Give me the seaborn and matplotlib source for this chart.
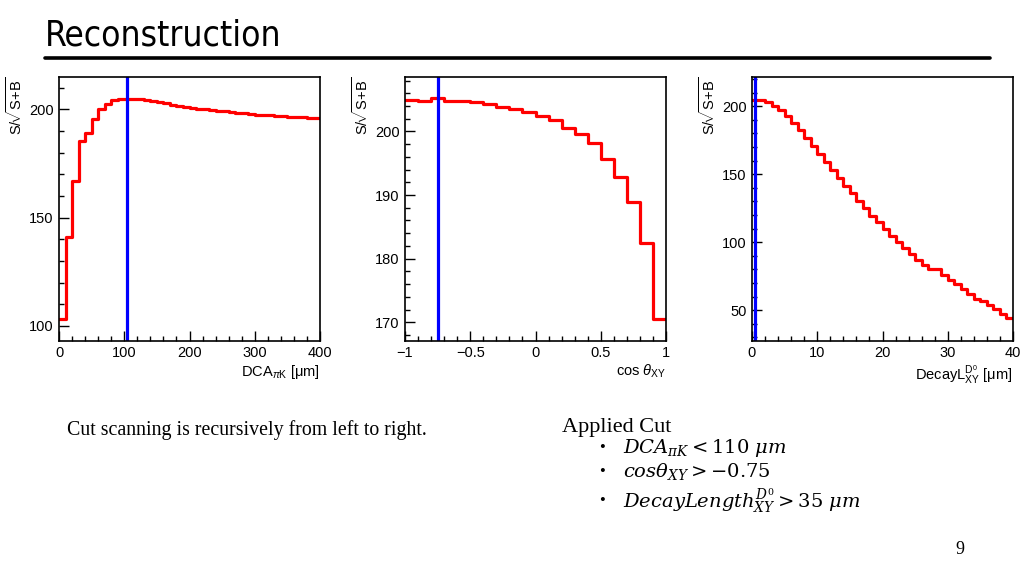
import numpy as np
import pandas as pd
import matplotlib.pyplot as plt
import seaborn as sns
from matplotlib.lines import Line2D
from matplotlib.ticker import MultipleLocator

# --- Data ---
# DCA_piK scan, 40 bins of 10 um from 0 to 400
dca_vals = [103.1, 140.9, 167.0, 185.3, 188.8, 195.7, 200.0, 202.6, 204.1, 204.8,
            204.8, 204.7, 204.5, 204.2, 203.8, 203.3, 202.7, 202.1, 201.5, 201.0,
            200.6, 200.3, 200.0, 199.6, 199.3, 199.0, 198.7, 198.4, 198.1, 197.8,
            197.5, 197.3, 197.1, 196.9, 196.7, 196.5, 196.3, 196.2, 196.1, 196.0]
dca_cut = 104

# cos theta_XY scan, 20 bins of 0.1 from -1 to 1
cos_vals = [205.0, 204.8, 205.3, 204.8, 204.8, 204.6, 204.3, 203.9, 203.5, 203.1,
            202.5, 201.8, 200.5, 199.6, 198.2, 195.7, 192.9, 188.9, 182.4, 170.5]
cos_cut = -0.75

# decay length scan, 40 bins of 1 um from 0 to 40
dl_vals = [205.0, 204.5, 203.0, 200.5, 197.0, 193.0, 188.0, 182.5, 177.0, 171.0,
           165.0, 159.0, 153.0, 147.5, 141.5, 136.0, 130.5, 125.0, 119.5, 114.5,
           109.5, 104.5, 100.0, 95.5, 91.0, 87.0, 83.0, 80.5, 80.0, 76.0,
           72.0, 69.0, 65.5, 62.0, 58.5, 57.0, 54.0, 51.0, 47.0, 44.0]
dl_cut = 0.5

panels = [
    dict(vals=dca_vals, lo=0, hi=400, cut=dca_cut, ylim=(93.2, 215.0),
         xmaj=100, xmin=20, ymaj=50, ymin=10,
         xlabel=r"DCA$_{\pi\mathrm{K}}$ [$\mathrm{\mu}$m]", left=59),
    dict(vals=cos_vals, lo=-1, hi=1, cut=cos_cut, ylim=(167.1, 208.6),
         xmaj=0.5, xmin=0.1, ymaj=10, ymin=2,
         xlabel=r"cos $\theta_{\mathrm{XY}}$", left=405),
    dict(vals=dl_vals, lo=0, hi=40, cut=dl_cut, ylim=(27.5, 221.8),
         xmaj=10, xmin=2, ymaj=50, ymin=10,
         xlabel=r"DecayL$^{\mathrm{D^0}}_{\mathrm{XY}}$ [$\mathrm{\mu}$m]", left=752),
]

cut_lines = [r"$DCA_{\pi K} < 110\ \mu m$",
             r"$cos\theta_{XY} > -0.75$",
             r"$DecayLength_{XY}^{D^0} > 35\ \mu m$"]

sns.set_style("ticks")
plt.rcParams["font.family"] = ["Liberation Sans", "DejaVu Sans"]
plt.rcParams["mathtext.fontset"] = "custom"
plt.rcParams["mathtext.rm"] = "Liberation Sans"
plt.rcParams["mathtext.it"] = "Liberation Sans:italic"
plt.rcParams["text.color"] = "black"
plt.rcParams["axes.labelcolor"] = "black"

W, H = 1024, 576
fig = plt.figure(figsize=(W / 100, H / 100), dpi=100)

for p in panels:
    n = len(p["vals"])
    step = (p["hi"] - p["lo"]) / n
    centers = p["lo"] + step * (np.arange(n) + 0.5)
    df = pd.DataFrame({"x": centers, "w": p["vals"]})
    ax = fig.add_axes([p["left"] / W, 1 - 340.7 / H, 261 / W, 264 / H])
    sns.histplot(data=df, x="x", weights="w", bins=n, binrange=(p["lo"], p["hi"]),
                 element="step", fill=False, color="#ff0000", linewidth=2.3, ax=ax)
    ax.axvline(p["cut"], color="#0000ff", linewidth=2.3)
    ax.set_xlim(p["lo"], p["hi"])
    ax.set_ylim(*p["ylim"])
    ax.xaxis.set_major_locator(MultipleLocator(p["xmaj"]))
    ax.xaxis.set_minor_locator(MultipleLocator(p["xmin"]))
    ax.yaxis.set_major_locator(MultipleLocator(p["ymaj"]))
    ax.yaxis.set_minor_locator(MultipleLocator(p["ymin"]))
    ax.tick_params(which="both", direction="in", top=False, right=False,
                   labelsize=10.5, color="black", labelcolor="black", pad=4)
    ax.tick_params(which="major", length=7, width=1)
    ax.tick_params(which="minor", length=3.5, width=1)
    if p["lo"] == -1:
        ax.xaxis.set_major_formatter(plt.FuncFormatter(
            lambda v, _: ("%g" % v).replace("-", "\u2212")))
    for s in ax.spines.values():
        s.set_visible(True)
        s.set_linewidth(1.2)
        s.set_color("black")
    ax.set_xlabel(p["xlabel"], loc="right", fontsize=10.5, labelpad=2)
    ax.set_ylabel(r"S/$\!\sqrt{\mathrm{S\!+\!B}}$", loc="top", fontsize=10.5,
                  labelpad=3)
    ax.set_facecolor("white")

# --- slide decorations ---
fig.text(45 / W, 1 - 46 / H, "Reconstruction", fontsize=25.3, va="baseline",
         family=["DejaVu Sans"], fontstretch="condensed")
fig.add_artist(Line2D([45 / W, 990 / W], [1 - 58 / H] * 2, lw=2.6, color="black"))

fig.text(67 / W, 1 - 430 / H, "Cut scanning is recursively from left to right.",
         fontsize=14.3, va="center", family=["Liberation Serif"])
fig.text(562 / W, 1 - 432 / H, "Applied Cut", fontsize=16, va="baseline",
         family=["Liberation Serif"])

cut_y = [448, 472, 501]
for txt, yy in zip(cut_lines, cut_y):
    fig.text(602 / W, 1 - yy / H, "\u2022", fontsize=12, ha="center", va="center",
             family=["Liberation Serif"])
    fig.text(623 / W, 1 - yy / H, txt, fontsize=14, va="center",
             math_fontfamily="dejavuserif")

fig.text(960 / W, 1 - 549 / H, "9", fontsize=13, ha="center", va="center",
         family=["Liberation Serif"])

fig.savefig("out.png", dpi=100, facecolor="white")
